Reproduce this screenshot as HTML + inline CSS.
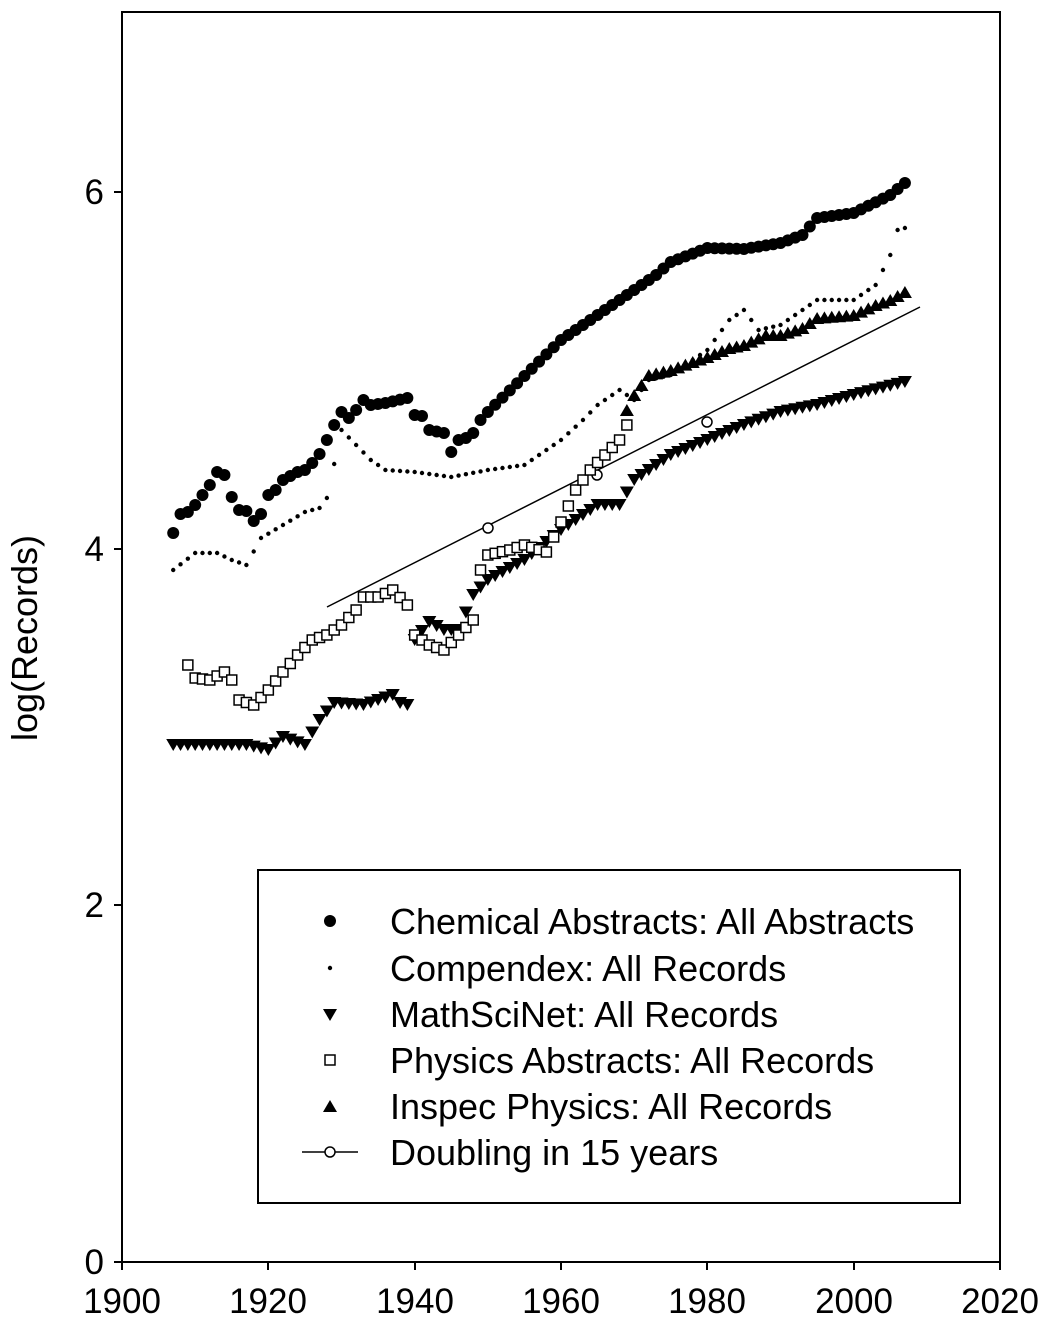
<!DOCTYPE html>
<html><head><meta charset="utf-8"><style>
html,body{margin:0;padding:0;background:#fff}
svg text{font-family:"Liberation Sans",Arial,sans-serif;fill:#000}
</style></head><body>
<svg id="s" width="1046" height="1322" viewBox="0 0 1046 1322" xmlns="http://www.w3.org/2000/svg">
<rect x="122" y="12" width="878" height="1250" fill="none" stroke="#000" stroke-width="2"/>
<g font-size="35">
<text x="104" y="204" text-anchor="end">6</text>
<text x="104" y="561" text-anchor="end">4</text>
<text x="104" y="917" text-anchor="end">2</text>
<text x="104" y="1274" text-anchor="end">0</text>
<text x="122" y="1313" text-anchor="middle">1900</text>
<text x="268" y="1313" text-anchor="middle">1920</text>
<text x="415" y="1313" text-anchor="middle">1940</text>
<text x="561" y="1313" text-anchor="middle">1960</text>
<text x="707" y="1313" text-anchor="middle">1980</text>
<text x="854" y="1313" text-anchor="middle">2000</text>
<text x="1000" y="1313" text-anchor="middle">2020</text>
<text transform="translate(37,638) rotate(-90)" text-anchor="middle" font-size="36">log(Records)</text>
</g>
<g stroke="#000" stroke-width="2">
<line x1="122" y1="1262" x2="122" y2="1270"/><line x1="268" y1="1262" x2="268" y2="1270"/><line x1="415" y1="1262" x2="415" y2="1270"/><line x1="561" y1="1262" x2="561" y2="1270"/><line x1="707" y1="1262" x2="707" y2="1270"/><line x1="854" y1="1262" x2="854" y2="1270"/><line x1="1000" y1="1262" x2="1000" y2="1270"/>
<line x1="114" y1="192" x2="122" y2="192"/><line x1="114" y1="549" x2="122" y2="549"/><line x1="114" y1="905" x2="122" y2="905"/><line x1="114" y1="1262" x2="122" y2="1262"/>
</g>
<line x1="327" y1="607" x2="920" y2="307" stroke="#000" stroke-width="1.5"/>
<g fill="#fff" stroke="#000" stroke-width="1.5">
<circle cx="488" cy="528" r="5"/><circle cx="597" cy="475" r="5"/><circle cx="707" cy="422" r="5"/>
</g>
<g id="d"></g>
<rect x="258" y="870" width="702" height="333" fill="#fff" stroke="#000" stroke-width="2"/>
<g font-size="36">
<text x="390" y="934">Chemical Abstracts: All Abstracts</text>
<text x="390" y="981">Compendex: All Records</text>
<text x="390" y="1027">MathSciNet: All Records</text>
<text x="390" y="1073">Physics Abstracts: All Records</text>
<text x="390" y="1119">Inspec Physics: All Records</text>
<text x="390" y="1165">Doubling in 15 years</text>
</g>
<circle cx="330" cy="921" r="6"/>
<circle cx="330" cy="968" r="2.2"/>
<polygon points="323,1009 337,1009 330,1021"/>
<rect x="325" y="1055" width="10" height="10" fill="#fff" stroke="#000" stroke-width="1.5"/>
<polygon points="323,1112 337,1112 330,1100"/>
<line x1="302" y1="1152" x2="358" y2="1152" stroke="#000" stroke-width="1.5"/>
<circle cx="330" cy="1152" r="5" fill="#fff" stroke="#000" stroke-width="1.5"/>
</svg>
<script>
function X(y){return 122+(y-1900)*7.317;}
function interp(k,y){for(var i=0;i<k.length-1;i++){if(y>=k[i][0]&&y<=k[i+1][0]){var t=(y-k[i][0])/(k[i+1][0]-k[i][0]||1);return k[i][1]+t*(k[i+1][1]-k[i][1]);}}return null;}
var ca=[[1907,533],[1908,514],[1909,512],[1910,505],[1911,495],[1912,485],[1913,472],[1914,475],[1915,497],[1916,510],[1917,511],[1918,521],[1919,514],[1920,495],[1921,490],[1922,480],[1923,476],[1924,472],[1925,470],[1926,463],[1927,454],[1928,440],[1929,425],[1930,412],[1931,418],[1932,410],[1933,400],[1934,405],[1936,403],[1939,398],[1940,415],[1941,416],[1942,430],[1944,433],[1945,452],[1946,440],[1947,438],[1948,433],[1949,420],[1950,412],[1960,340],[1970,290],[1973,275],[1975,262],[1980,248],[1985,249],[1990,243],[1993,235],[1995,218],[2000,213],[2005,195],[2007,183]];
var cp=[[1907,570],[1910,553],[1913,553],[1915,560],[1917,565],[1919,538],[1922,525],[1925,512],[1927,508],[1928,498],[1930,430],[1932,445],[1934,460],[1936,470],[1940,472],[1945,477],[1950,470],[1955,465],[1960,440],[1963,420],[1965,405],[1968,390],[1970,400],[1972,380],[1975,375],[1980,350],[1983,320],[1985,310],[1987,330],[1990,325],[1995,300],[2000,300],[2003,285],[2005,255],[2006,230],[2007,228]];
var ms=[[1907,745],[1917,745],[1920,750],[1922,737],[1925,745],[1927,720],[1929,703],[1933,705],[1937,695],[1938,703],[1939,705]];
var ms2=[[1940,640],[1942,622],[1944,630],[1946,630],[1948,595],[1950,580],[1955,560],[1960,530],[1965,505],[1968,505],[1970,480],[1975,455],[1980,440],[1985,425],[1990,412],[1995,405],[2000,395],[2007,382]];
var pa=[[1909,665],[1910,678],[1912,680],[1914,672],[1915,680],[1916,700],[1918,705],[1920,690],[1922,672],[1924,655],[1926,640],[1928,635],[1930,625],[1932,610],[1933,597],[1935,597],[1937,590],[1939,605],[1940,635],[1942,645],[1944,650],[1946,635],[1948,620],[1949,570],[1950,555],[1953,550],[1955,545],[1958,552],[1960,522],[1962,490],[1964,470],[1966,455],[1968,440],[1969,425]];
var ip=[[1969,410],[1970,395],[1972,375],[1975,370],[1978,362],[1980,357],[1983,348],[1985,345],[1988,335],[1990,335],[1993,328],[1995,318],[2000,315],[2003,305],[2005,300],[2007,292]];
var h='';
function run(k,f){for(var y=k[0][0];y<=k[k.length-1][0];y++){var v=interp(k,y);if(v!==null)h+=f(X(y),v);}}
run(ca,function(x,y){return '<circle cx="'+x+'" cy="'+y+'" r="6"/>';});
run(cp,function(x,y){return '<circle cx="'+x+'" cy="'+y+'" r="2.2"/>';});
var tri=function(x,y){return '<polygon points="'+(x-7)+','+(y-6)+' '+(x+7)+','+(y-6)+' '+x+','+(y+6)+'"/>';};
run(ms,tri);run(ms2,tri);
run(pa,function(x,y){return '<rect x="'+(x-5)+'" y="'+(y-5)+'" width="10" height="10" fill="#fff" stroke="#000" stroke-width="1.5"/>';});
run(ip,function(x,y){return '<polygon points="'+(x-7)+','+(y+6)+' '+(x+7)+','+(y+6)+' '+x+','+(y-6)+'"/>';});
document.getElementById('d').innerHTML=h;
</script>
</body></html>
